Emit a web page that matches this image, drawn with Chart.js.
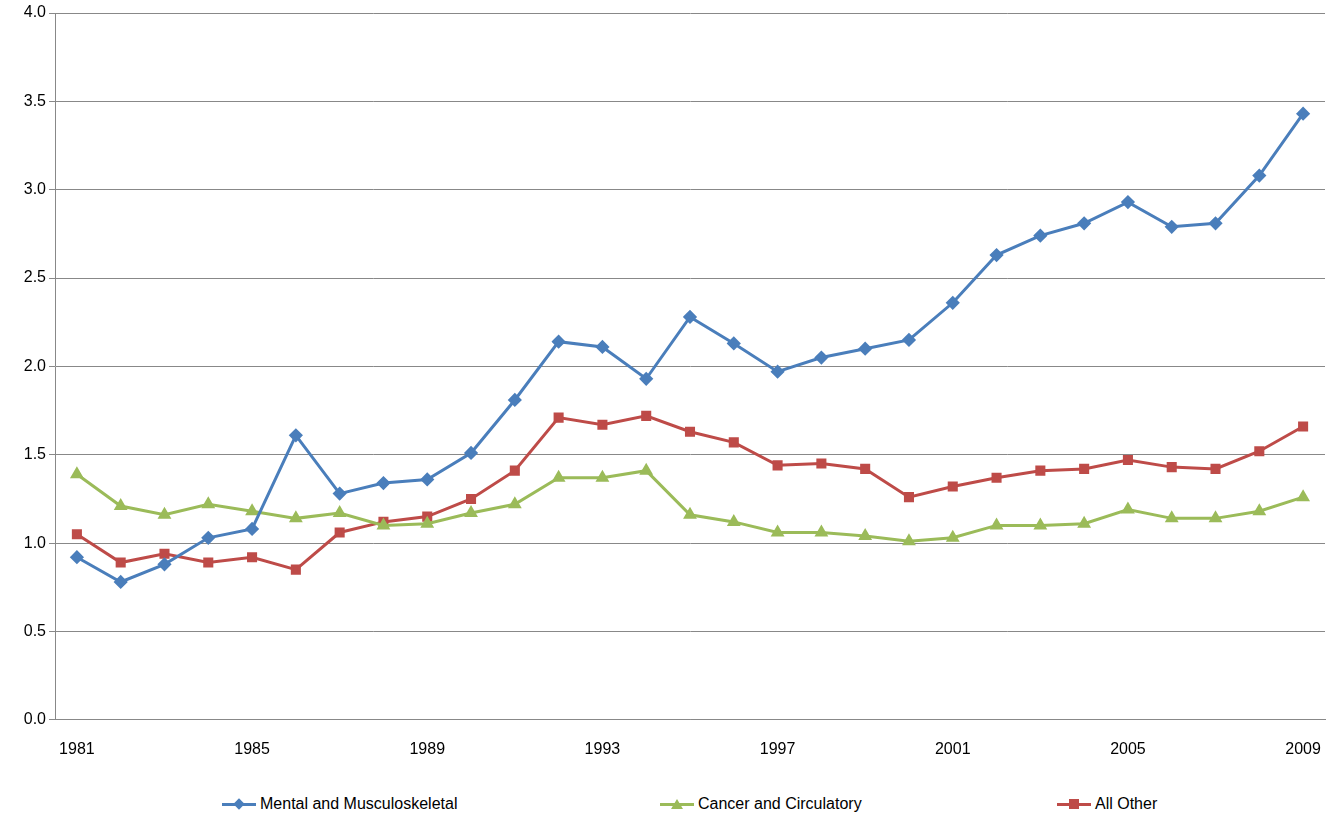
<!DOCTYPE html>
<html><head><meta charset="utf-8">
<script src="https://cdn.jsdelivr.net/npm/chart.js@4"></script>
<style>
html,body{margin:0;background:#fff;font-family:"Liberation Sans",Arial,sans-serif}
#wrap{position:relative;width:1337px;height:816px}
#cw{position:absolute;left:0;top:0;width:1337px;height:776px}
#legend{position:absolute;top:795px;left:0;width:1337px;font-size:16px}
.item{position:absolute;display:flex;align-items:center}
.sw{position:relative;width:34px;height:12px;margin-right:4px}
.sw .ln{position:absolute;left:0;right:0;top:5px;height:3px}
.sw .mk{position:absolute;left:12px;top:1px;width:10px;height:10px}
</style>
</head><body><div id="wrap"><div id="cw"><canvas id="c"></canvas></div><div id="legend"></div></div>
<script>
var years = [];
for (var y = 1981; y <= 2009; y++) years.push(String(y));
var mental = [0.92,0.78,0.88,1.03,1.08,1.61,1.28,1.34,1.36,1.51,1.81,2.14,2.11,1.93,2.28,2.13,1.97,2.05,2.10,2.15,2.36,2.63,2.74,2.81,2.93,2.79,2.81,3.08,3.43];
var cancer = [1.39,1.21,1.16,1.22,1.18,1.14,1.17,1.10,1.11,1.17,1.22,1.37,1.37,1.41,1.16,1.12,1.06,1.06,1.04,1.01,1.03,1.10,1.10,1.11,1.19,1.14,1.14,1.18,1.26];
var other = [1.05,0.89,0.94,0.89,0.92,0.85,1.06,1.12,1.15,1.25,1.41,1.71,1.67,1.72,1.63,1.57,1.44,1.45,1.42,1.26,1.32,1.37,1.41,1.42,1.47,1.43,1.42,1.52,1.66];

var font = { family: "Liberation Sans, Arial, sans-serif", size: 16 };
Chart.defaults.color = "#000";

function ds(label, data, color, style, r) {
  return { label: label, data: data, borderColor: color, backgroundColor: color,
    borderWidth: 3, pointStyle: style, pointRadius: r, pointHoverRadius: r, tension: 0 };
}

var chart = new Chart(document.getElementById("c"), {
  type: "line",
  data: {
    labels: years,
    datasets: [
      ds("Mental and Musculoskeletal", mental, "#4a7ebb", "rectRot", 5),
      ds("Cancer and Circulatory", cancer, "#9bbb59", "triangle", 5),
      ds("All Other", other, "#be4b48", "rect", 5)
    ]
  },
  options: {
    responsive: true, maintainAspectRatio: false, animation: false,
    layout: { padding: { left: 10, right: 12, top: 13, bottom: 5 } },
    plugins: { legend: { display: false }, tooltip: { enabled: false } },
    scales: {
      x: {
        offset: true,
        grid: { display: false },
        border: { color: "#888" },
        ticks: { font: font, autoSkip: false, maxRotation: 0, padding: 12,
          callback: function (v, i) { return i % 4 === 0 ? years[i] : ""; } }
      },
      y: {
        min: 0, max: 4,
        afterFit: function (s) { s.width = 45; },
        grid: { color: "#888", tickLength: 6 },
        border: { color: "#888" },
        ticks: { font: font, stepSize: 0.5, callback: function (v) { return v.toFixed(1); } }
      }
    }
  }
});

// legend
var lefts = [222, 660, 1057];
var shapes = ["transform:rotate(45deg) scale(0.8)", "width:0;height:0;background:none;border-left:6px solid transparent;border-right:6px solid transparent;border-bottom:10px solid COL;left:11px", ""];
var leg = document.getElementById("legend");
chart.data.datasets.forEach(function (d, i) {
  var it = document.createElement("div");
  it.className = "item"; it.style.left = lefts[i] + "px";
  var mkStyle = i === 1 ? shapes[1].replace("COL", d.borderColor) : "background:" + d.borderColor + ";" + shapes[i];
  it.innerHTML = '<span class="sw"><span class="ln" style="background:' + d.borderColor + '"></span><span class="mk" style="' + mkStyle + '"></span></span>' + d.label;
  leg.appendChild(it);
});
</script></body></html>
